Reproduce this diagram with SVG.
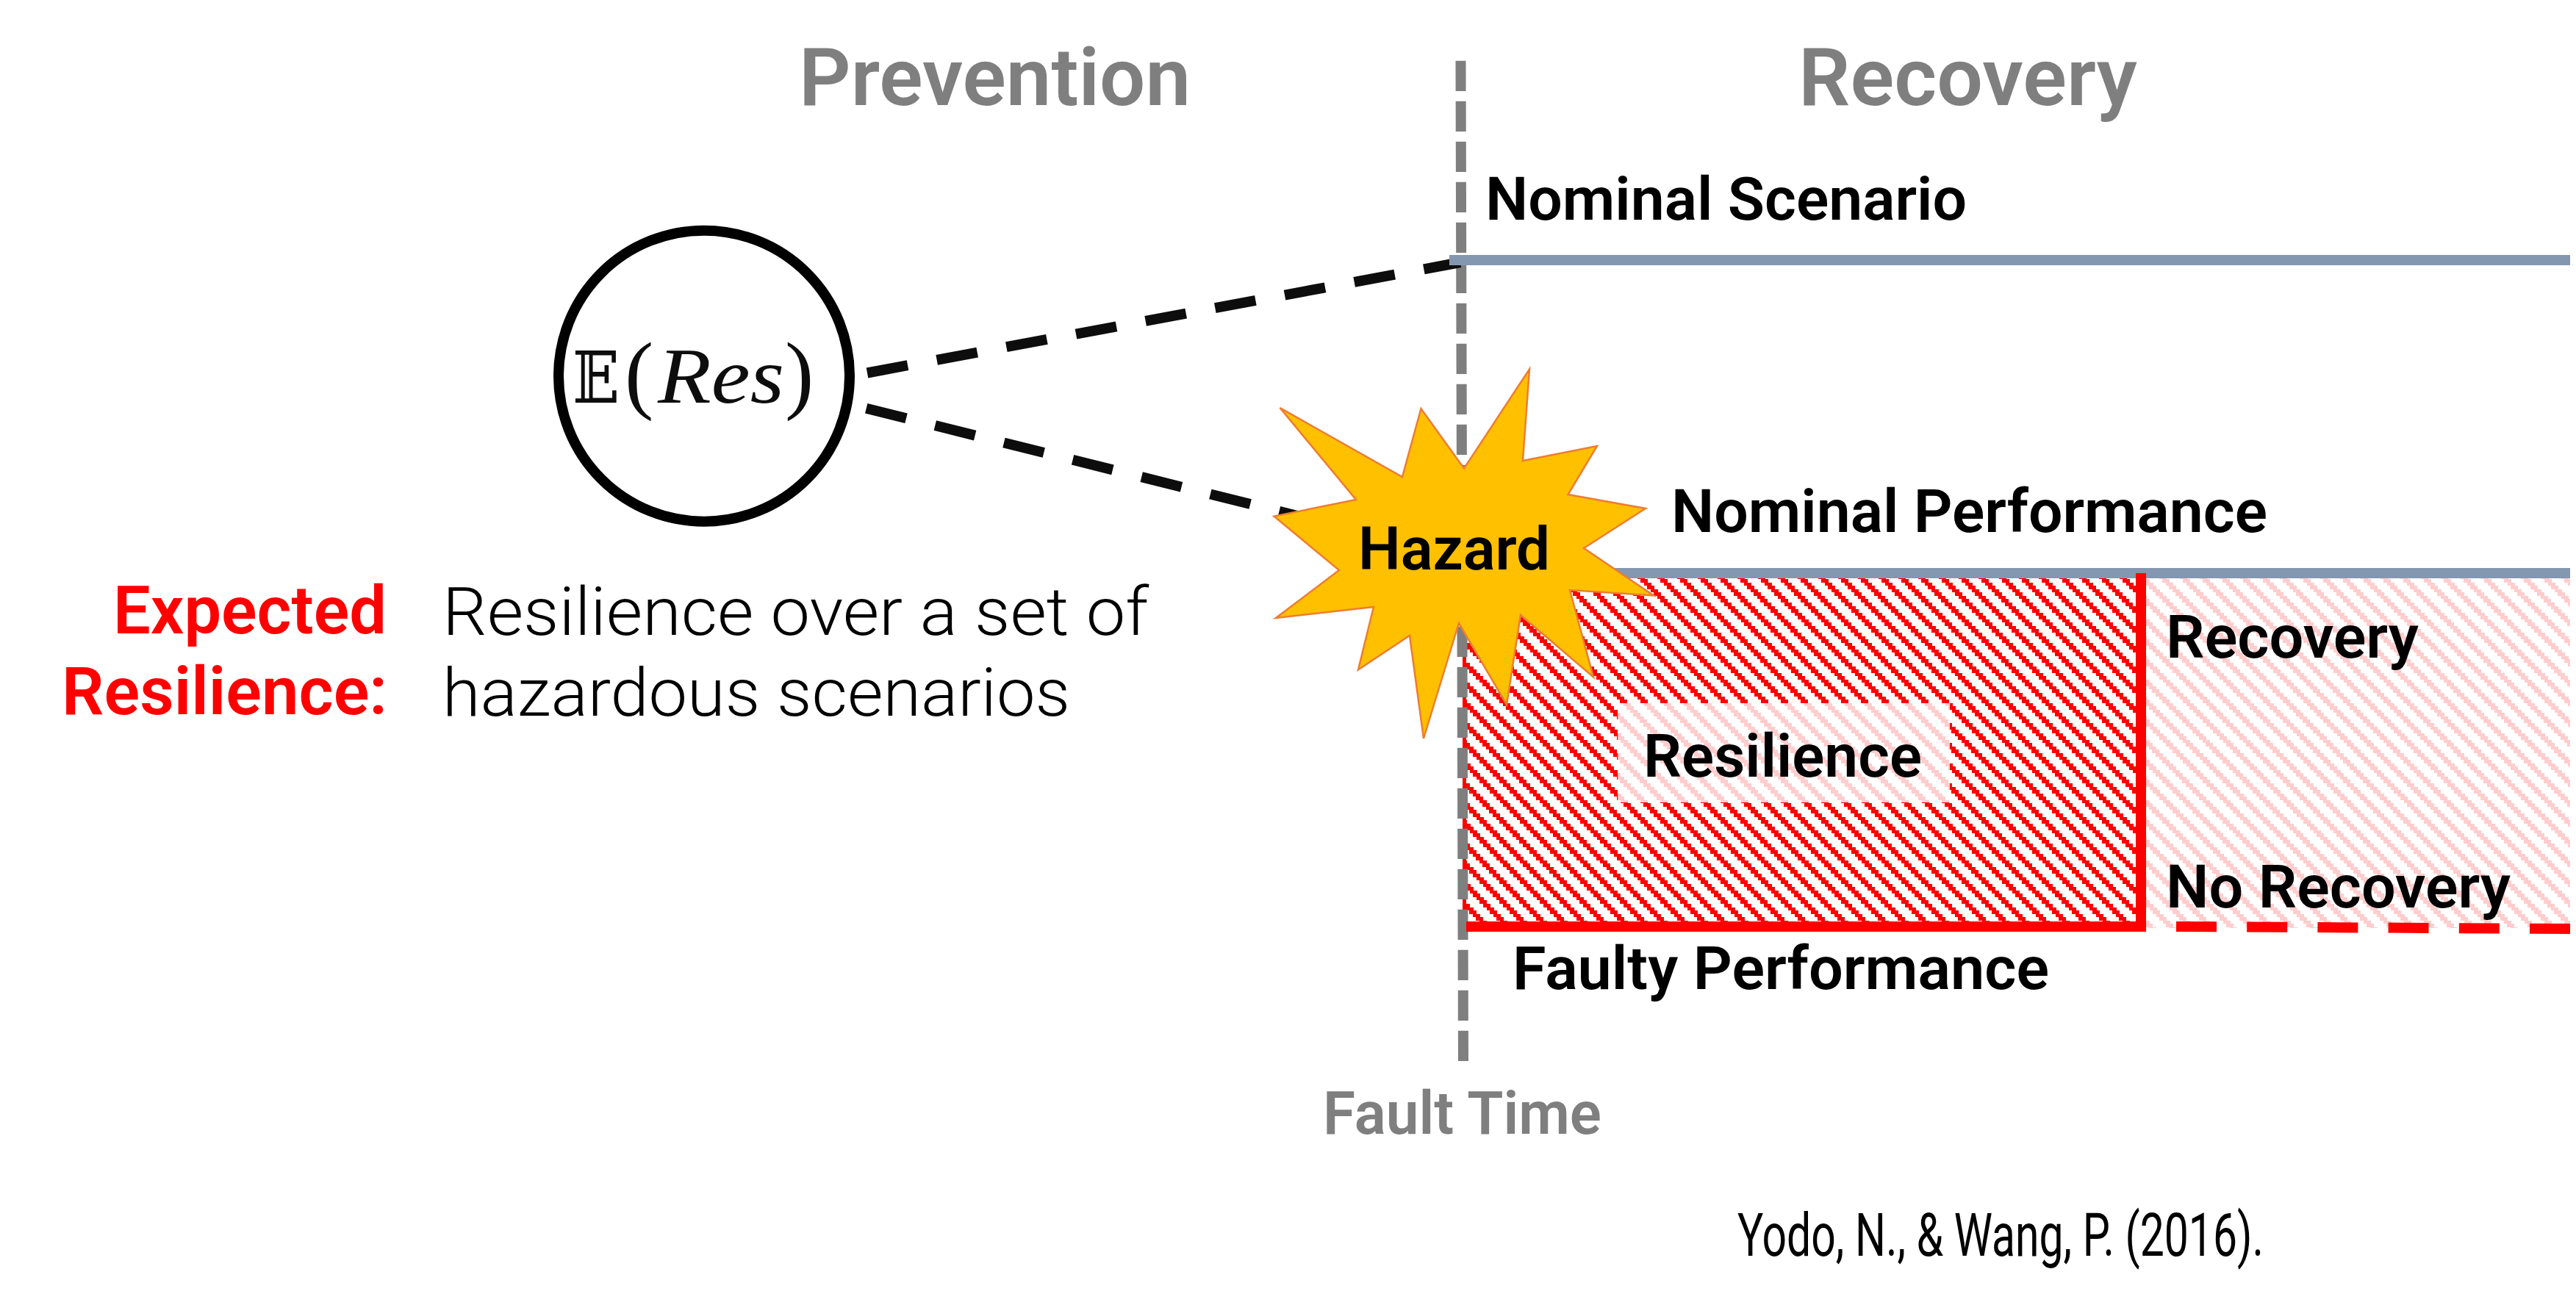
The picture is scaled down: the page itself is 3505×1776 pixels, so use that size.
<svg xmlns="http://www.w3.org/2000/svg" width="3505" height="1776" viewBox="0 0 3505 1776">
<style>
text{font-family:"Roboto","Liberation Sans",sans-serif;font-weight:600;fill:#000}
.h1{font-size:109px;fill:#7f7f7f}
.lab{font-size:81px}
.red{font-size:91px;fill:#f00}
.body{font-size:90px;font-weight:300}
.grey{font-size:81px;fill:#7f7f7f}
.cite{font-size:82px;font-weight:400;font-family:"Liberation Sans Narrow","Roboto",sans-serif}
.math{font-family:"Liberation Serif","DejaVu Serif",serif;font-weight:400;fill:#0d0d0d}
.conn{fill:none;stroke-width:14}
</style>
<defs>
<path id="st" shape-rendering="crispEdges" d="M0 0h10v5h5v4h4v5h5v4h4v5h5v4h4v5h5v4h4v5h5v5h5v4h4v5h5v4h4v5h5v4h4v5h5v4h4v5h-10v-5h-4v-4h-5v-5h-4v-4h-5v-5h-4v-4h-5v-5h-4v-4h-5v-5h-5v-5h-4v-4h-5v-5h-4v-4h-5v-5h-4v-4h-5v-5h-4v-4h-5z"/>
<pattern id="hr" patternUnits="userSpaceOnUse" width="82" height="82" patternTransform="translate(77 0)">
<g fill="#f00"><use href="#st" x="-82"/><use href="#st" x="-55"/><use href="#st" x="-27"/><use href="#st"/><use href="#st" x="27"/><use href="#st" x="55"/></g>
</pattern>
<pattern id="hl" patternUnits="userSpaceOnUse" width="82" height="82" patternTransform="translate(77 0)">
<g fill="#ffcdcd"><use href="#st" x="-82"/><use href="#st" x="-55"/><use href="#st" x="-27"/><use href="#st"/><use href="#st" x="27"/><use href="#st" x="55"/></g>
</pattern>
</defs>
<rect width="3505" height="1776" fill="#fff"/>
<g id="resilience-area">
<rect x="1990" y="786" width="917" height="472" fill="url(#hr)"/>
<rect x="1990" y="786" width="5" height="472" fill="#f00"/>
<rect x="2920" y="786" width="577" height="477" fill="url(#hl)"/>
</g>
<g id="connectors">
<line class="conn" x1="1987.5" y1="82.7" x2="1991" y2="1444" stroke="#7f7f7f" stroke-dasharray="41.3 13.7"/>
<line class="conn" x1="1180" y1="507.5" x2="1987" y2="357" stroke="#0d0d0d" stroke-dasharray="56 40.3"/>
<line class="conn" x1="1178.7" y1="555.7" x2="1775" y2="704.5" stroke="#0d0d0d" stroke-dasharray="56 40.5"/>
<line class="conn" x1="1972" y1="354" x2="3497" y2="354" stroke="#8497b0"/>
<line class="conn" x1="2150" y1="780" x2="3497" y2="780" stroke="#8497b0"/>
<path class="conn" d="M2913 780V1261H1995" stroke="#f00"/>
<line class="conn" x1="2961" y1="1261" x2="3497" y2="1264" stroke="#f00" stroke-dasharray="55 41.2"/>
</g>
<g id="resilience-label">
<rect x="2201.500" y="957" width="451.500" height="135" fill="#fff"/>
<rect x="2201.500" y="957" width="451.500" height="135" fill="url(#hl)"/>
<text class="lab" x="2236" y="1056.700" textLength="379" lengthAdjust="spacingAndGlyphs">Resilience</text>
</g>
<g id="expectation">
<circle cx="958" cy="511.700" r="198" fill="#fff" stroke="#000" stroke-width="14"/>
<text class="math" x="779" y="548" font-size="98" textLength="64" lengthAdjust="spacingAndGlyphs" style="font-family:'DejaVu Serif','DejaVu Sans',serif">𝔼</text>
<text class="math" x="850" y="548" font-size="118">(</text>
<text class="math" x="895" y="548" font-size="108" font-style="italic" textLength="172" lengthAdjust="spacingAndGlyphs">Res</text>
<text class="math" x="1068" y="548" font-size="118">)</text>
</g>
<g id="hazard">
<polygon points="1741.500,555 1908,649 1933.500,556 1992,637.500 2081,502.400 2072,627 2173,607 2133.500,673 2239,692 2155,746 2250,810.500 2136,803 2168,921.500 2069,837 2050,959 1985,848 1937,1005 1918,865 1848,911.500 1869,826 1736,841 1822,776 1733.500,702.600 1845,680" fill="#ffc000" stroke="#ed7d31" stroke-width="2.500"/>
<text class="lab" x="1848" y="775" textLength="261" lengthAdjust="spacingAndGlyphs" font-size="83">Hazard</text>
</g>
<g id="titles">
<text class="h1" x="1087" y="142.700" textLength="533" lengthAdjust="spacingAndGlyphs">Prevention</text>
<text class="h1" x="2447" y="142.700" textLength="461" lengthAdjust="spacingAndGlyphs">Recovery</text>
</g>
<g id="labels">
<text class="lab" x="2021" y="299" textLength="655" lengthAdjust="spacingAndGlyphs">Nominal Scenario</text>
<text class="lab" x="2274" y="723.500" textLength="811" lengthAdjust="spacingAndGlyphs">Nominal Performance</text>
<text class="lab" x="2947" y="894.600" textLength="344" lengthAdjust="spacingAndGlyphs">Recovery</text>
<text class="lab" x="2947" y="1234.600" textLength="469" lengthAdjust="spacingAndGlyphs">No Recovery</text>
<text class="lab" x="2058" y="1345.500" textLength="730" lengthAdjust="spacingAndGlyphs">Faulty Performance</text>
<text class="grey" x="1800" y="1543" textLength="379" lengthAdjust="spacingAndGlyphs">Fault Time</text>
<text class="cite" x="2364" y="1709" textLength="716" lengthAdjust="spacingAndGlyphs">Yodo, N., &amp; Wang, P. (2016).</text>
</g>
<g id="definition">
<text class="red" x="154" y="861.700" textLength="372" lengthAdjust="spacingAndGlyphs">Expected</text>
<text class="red" x="84" y="971.700" textLength="443" lengthAdjust="spacingAndGlyphs">Resilience:</text>
<text class="body" x="602" y="864.300" textLength="961" lengthAdjust="spacingAndGlyphs">Resilience over a set of</text>
<text class="body" x="602" y="974.300" textLength="854" lengthAdjust="spacingAndGlyphs">hazardous scenarios</text>
</g>
</svg>
